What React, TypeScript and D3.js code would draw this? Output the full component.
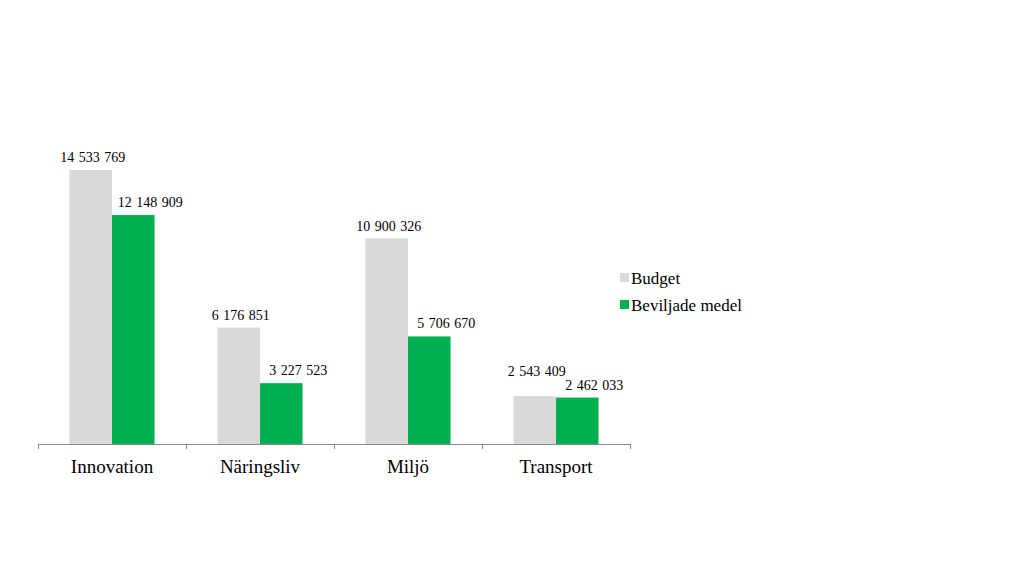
import React from "react";
import * as d3 from "d3";

const categories = ["Innovation", "Näringsliv", "Miljö", "Transport"];
const budget = [14533769, 6176851, 10900326, 2543409];
const beviljade = [12148909, 3227523, 5706670, 2462033];
const seriesNames = ["Budget", "Beviljade medel"];
const colors = ["#d9d9d9", "#00b050"];

const fmt = (v: number) => d3.format(",")(v).replace(/,/g, " ");

export default function App() {
  const W = 1024, H = 576;
  const x0 = d3.scaleBand().domain(categories).range([38, 630]).paddingInner(0).paddingOuter(0);
  const x1 = d3.scaleBand().domain(seriesNames).range([0, x0.bandwidth()]).paddingInner(0).paddingOuter(0.74);
  const y = d3.scaleLinear().domain([0, 16000000]).range([444, 142.4]);
  const series = [budget, beviljade];
  const font = "'Liberation Serif', 'Times New Roman', serif";
  const ticks = [...categories.map((c) => x0(c)!), 630];
  const labelGap = 8;
  const lineH = 14;
  const labelDx = [2, 17];
  return (
    <svg width={W} height={H} style={{ position: "absolute", left: 0, top: 0, background: "#fff" }}>
      {categories.map((c, i) => {
        const yB = y(beviljade[i]) - labelGap;
        let yA = y(budget[i]) - labelGap;
        if (yA > yB - lineH) yA = yB - lineH;
        const ly = [yA, yB];
        return series.map((s, j) => {
          const bx = x0(c)! + x1(seriesNames[j])!;
          const by = y(s[i]);
          return (
            <g key={c + j}>
              <rect x={bx} y={by} width={x1.bandwidth()} height={y(0) - by} fill={colors[j]} />
              <text x={bx + x1.bandwidth() / 2 + labelDx[j]} y={ly[j]} textAnchor="middle" fontFamily={font} fontSize={14} wordSpacing={1} fill="#000">
                {fmt(s[i])}
              </text>
            </g>
          );
        });
      })}
      <line x1={38} x2={630} y1={444.5} y2={444.5} stroke="#888" strokeWidth={1} />
      {ticks.map((t, i) => (
        <line key={i} x1={t + 0.5} x2={t + 0.5} y1={444} y2={449} stroke="#888" />
      ))}
      {categories.map((c) => (
        <text key={c} x={x0(c)! + x0.bandwidth() / 2} y={473} textAnchor="middle" fontFamily={font} fontSize={19} fill="#000">
          {c}
        </text>
      ))}
      {seriesNames.map((n, j) => (
        <g key={n} transform={`translate(620, ${273 + j * 27})`}>
          <rect x={0} y={0} width={9} height={9} fill={colors[j]} />
          <text x={11} y={11} fontFamily={font} fontSize={17} fill="#000">{n}</text>
        </g>
      ))}
    </svg>
  );
}
